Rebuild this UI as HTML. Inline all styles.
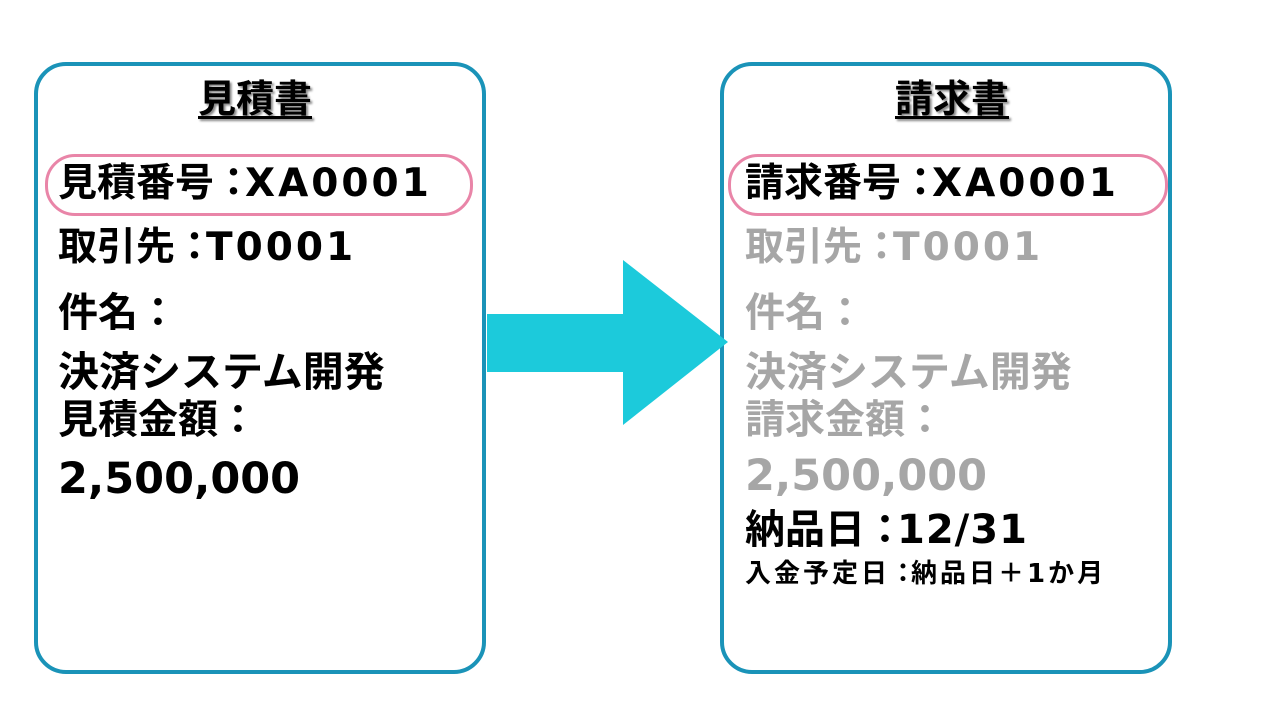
<!DOCTYPE html>
<html><head><meta charset="utf-8"><style>
body{margin:0;width:1280px;height:720px;background:#fff;position:relative;overflow:hidden;font-family:"DejaVu Sans","Noto Sans CJK JP",sans-serif;font-weight:bold;color:#000}
.box{position:absolute;top:62px;width:444px;height:604px;border:4px solid #1a93b8;border-radius:32px;box-sizing:content-box}
.pill{position:absolute;top:154px;height:56px;border:3px solid #e985a8;border-radius:30px}
.t{position:absolute;white-space:nowrap;line-height:1}
.title{font-size:38px;text-decoration:underline;text-decoration-thickness:3px;text-underline-offset:4px;text-shadow:2px 2px 2px #888}
.g{color:#a6a6a6}
.c{letter-spacing:-8px}
.l{letter-spacing:3px}
</style></head><body>
<div class="box" style="left:34px"></div>
<div class="box" style="left:720px"></div>
<div class="pill" style="left:45px;width:422px"></div>
<div class="pill" style="left:728px;width:434px"></div>

<div class="t title" style="left:198px;top:80px">見積書</div>
<div class="t" style="left:58px;top:164px;font-size:39px">見積番号<span class="c">：</span><span class="l">XA0001</span></div>
<div class="t" style="left:58px;top:228px;font-size:39px">取引先<span class="c">：</span><span class="l">T0001</span></div>
<div class="t" style="left:58px;top:293px;font-size:40px">件名：</div>
<div class="t" style="left:58px;top:352px;font-size:41px">決済システム開発</div>
<div class="t" style="left:58px;top:400px;font-size:40px">見積金額：</div>
<div class="t" style="left:58px;top:458px;font-size:43px">2,500,000</div>

<div class="t title" style="left:895px;top:80px">請求書</div>
<div class="t" style="left:745px;top:164px;font-size:39px">請求番号<span class="c">：</span><span class="l">XA0001</span></div>
<div class="t g" style="left:745px;top:228px;font-size:39px">取引先<span class="c">：</span><span class="l">T0001</span></div>
<div class="t g" style="left:745px;top:293px;font-size:40px">件名：</div>
<div class="t g" style="left:745px;top:352px;font-size:41px">決済システム開発</div>
<div class="t g" style="left:745px;top:400px;font-size:40px">請求金額：</div>
<div class="t g" style="left:745px;top:455px;font-size:43px">2,500,000</div>
<div class="t" style="left:745px;top:510px;font-size:40px">納品日<span class="c">：</span><span style="letter-spacing:1px">12/31</span></div>
<div class="t" style="left:745px;top:561px;font-size:26px;letter-spacing:3px">入金予定日<span style="letter-spacing:-5px">：</span>納品日＋1か月</div>

<svg style="position:absolute;left:0;top:0" width="1280" height="720">
<polygon points="487,314 623,314 623,260 728,342 623,425 623,372 487,372" fill="#1ccadb"/>
</svg>
</body></html>
